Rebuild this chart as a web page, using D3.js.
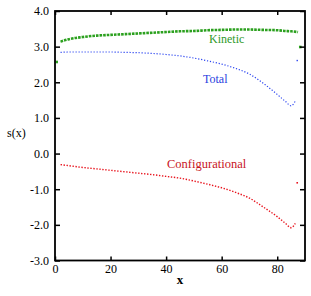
<!DOCTYPE html>
<html>
<head>
<meta charset="utf-8">
<script src="https://cdn.jsdelivr.net/npm/d3@7"></script>
<style>
  body { margin: 0; background: #fff; }
  svg text { font-family: "Liberation Serif", "Times New Roman", serif; }
</style>
</head>
<body>
<svg id="chart"></svg>
<script>
// data
const xKinetic = [2, 5, 10, 15, 20, 25, 30, 35, 40, 45, 50, 55, 60, 65, 70, 75, 80, 83, 85, 87.5];
const kinetic = [3.14, 3.21, 3.27, 3.31, 3.33, 3.35, 3.37, 3.39, 3.41, 3.43, 3.44, 3.46, 3.47, 3.48, 3.48, 3.47, 3.46, 3.44, 3.43, 3.41];
const xCurve = [2, 5, 10, 15, 20, 25, 30, 35, 40, 45, 50, 55, 60, 65, 70, 75, 80, 83, 85, 86.5];
const total = [2.84, 2.85, 2.85, 2.85, 2.85, 2.84, 2.83, 2.81, 2.78, 2.74, 2.68, 2.60, 2.51, 2.39, 2.23, 1.97, 1.66, 1.46, 1.34, 1.47];
const configurational = [-0.31, -0.34, -0.39, -0.43, -0.47, -0.51, -0.55, -0.59, -0.64, -0.69, -0.77, -0.86, -0.96, -1.09, -1.25, -1.50, -1.77, -1.96, -2.08, -1.96];
// stray points off the curves
const strayKinetic = [[0.6, 2.57], [88.3, 2.99]];
const strayTotal = [[87.2, 2.61]];
const strayConfig = [[87.2, -0.82]];

const xTicks = [0, 20, 40, 60, 80];
const yTicks = [-3, -2, -1, 0, 1, 2, 3, 4];

// drawing constants
const W = 311, H = 296;
const LEFT = 55, RIGHT = 305, TOP = 11, BOTTOM = 260.5;

const svg = d3.select('#chart')
  .attr('width', W)
  .attr('height', H);

const x = d3.scaleLinear().domain([0, 90]).range([LEFT, RIGHT]);
const y = d3.scaleLinear().domain([-3, 4]).range([BOTTOM, TOP]);

const line = d3.line().x(d => x(d[0])).y(d => y(d[1])).curve(d3.curveMonotoneX);

function series(xs, ys, color, width, dash, stray, size) {
  svg.append('path')
    .datum(xs.map((v, i) => [v, ys[i]]))
    .attr('fill', 'none')
    .attr('stroke', color)
    .attr('stroke-width', width)
    .attr('stroke-dasharray', dash)
    .attr('d', line);
  svg.selectAll(null).data(stray).enter().append('rect')
    .attr('x', d => x(d[0]) - size / 2)
    .attr('y', d => y(d[1]) - size / 2)
    .attr('width', size)
    .attr('height', size)
    .attr('fill', color);
}

series(xKinetic, kinetic, '#2ba01e', 2.6, '2.6,1.0', strayKinetic, 2.6);
series(xCurve, total, '#2a44f0', 1.2, '1.2,1.8', strayTotal, 1.4);
series(xCurve, configurational, '#e8141e', 1.4, '1.4,1.6', strayConfig, 1.6);

// axes, ticks pointing inward
const fmt = d => d.toFixed(1);
const axes = svg.append('g');

axes.append('g')
  .attr('transform', `translate(0,${BOTTOM})`)
  .call(d3.axisBottom(x).tickValues(xTicks).tickSizeInner(-4).tickSizeOuter(0).tickPadding(4));
axes.append('g')
  .attr('transform', `translate(0,${TOP})`)
  .call(d3.axisTop(x).tickValues(xTicks).tickSizeInner(-4).tickSizeOuter(0).tickFormat(''));
axes.append('g')
  .attr('transform', `translate(${LEFT},0)`)
  .call(d3.axisLeft(y).tickValues(yTicks).tickSizeInner(-5).tickSizeOuter(0).tickPadding(6).tickFormat(fmt));
axes.append('g')
  .attr('transform', `translate(${RIGHT},0)`)
  .call(d3.axisRight(y).tickValues(yTicks).tickSizeInner(-5).tickSizeOuter(0).tickFormat(''));

axes.selectAll('g').attr('font-size', 12).attr('font-family', null);
axes.selectAll('.domain').remove();
axes.selectAll('.tick line').attr('stroke', '#000').attr('stroke-width', 1.5);
axes.selectAll('.tick text').attr('fill', '#000');

svg.append('rect')
  .attr('x', LEFT).attr('y', TOP)
  .attr('width', RIGHT - LEFT).attr('height', BOTTOM - TOP)
  .attr('fill', 'none').attr('stroke', '#000').attr('stroke-width', 1.8);

// titles
svg.append('text').attr('x', 7).attr('y', 137).attr('font-size', 12).text('s(x)');
svg.append('text').attr('x', (LEFT + RIGHT) / 2).attr('y', 284)
  .attr('text-anchor', 'middle').attr('font-size', 13).attr('font-weight', 'bold').text('x');

// series labels
svg.append('text').attr('x', 209).attr('y', 42.5).attr('font-size', 12).attr('fill', '#2f9a2a').text('Kinetic');
svg.append('text').attr('x', 203).attr('y', 83).attr('font-size', 12).attr('fill', '#2a3fe0').text('Total');
svg.append('text').attr('x', 167).attr('y', 168).attr('font-size', 12.5).attr('fill', '#c8141e').text('Configurational');
</script>
</body>
</html>
